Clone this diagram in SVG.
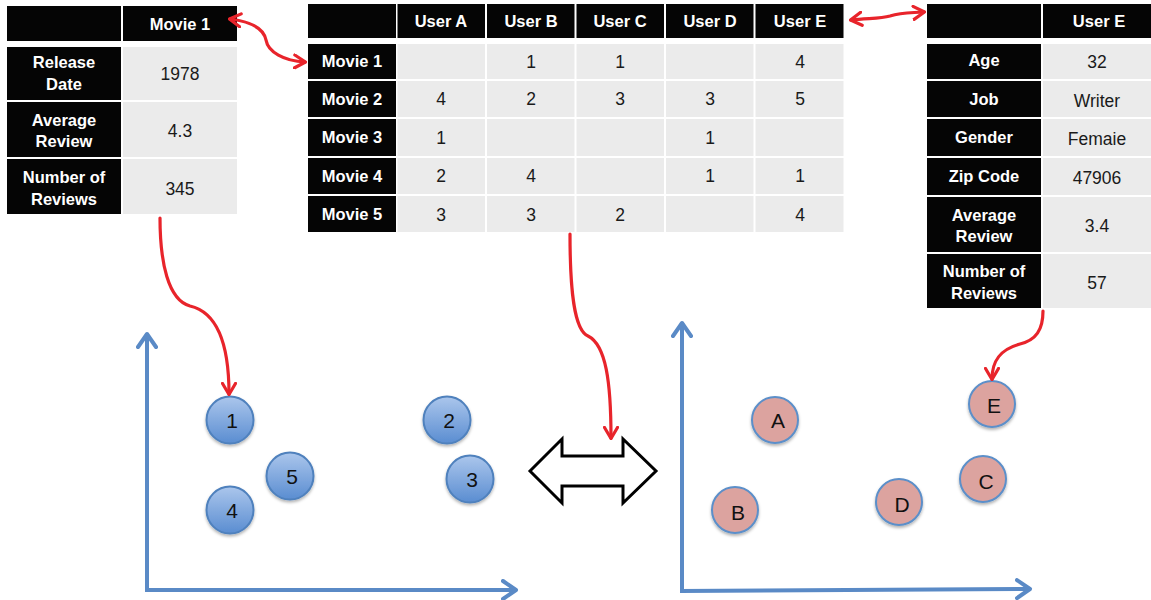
<svg xmlns="http://www.w3.org/2000/svg" width="1151" height="600" viewBox="0 0 1151 600">
<defs>
<style>
.k{fill:#050505}
.g{fill:#ebebeb}
.lb{font-family:"Liberation Sans",Arial,sans-serif;font-size:16.5px;font-weight:bold;fill:#ffffff;text-anchor:middle}
.v{font-family:"Liberation Sans",Arial,sans-serif;font-size:17.5px;fill:#1a1a1a;text-anchor:middle}
.ct{font-family:"Liberation Sans",Arial,sans-serif;font-size:21px;fill:#111111;text-anchor:middle}
.bc{fill:url(#bg);stroke:#4f81bd;stroke-width:2;filter:url(#sh)}
.pc{fill:#dca39f;stroke:#5b8fc9;stroke-width:2;filter:url(#sh)}
.ax{fill:none;stroke:#5a8ac6;stroke-width:4;marker-end:url(#ah)}
.rd{fill:none;stroke:#e8242b;stroke-width:3.2;stroke-linecap:round}
</style>
<linearGradient id="bg" x1="0" y1="0" x2="0" y2="1">
<stop offset="0" stop-color="#abc6ec"/>
<stop offset="1" stop-color="#5a8dd1"/>
</linearGradient>
<filter id="sh" x="-30%" y="-30%" width="160%" height="170%">
<feDropShadow dx="0" dy="2" stdDeviation="1.5" flood-color="#000" flood-opacity="0.3"/>
</filter>
<marker id="rh" viewBox="0 0 14 16" refX="12" refY="8" markerWidth="14" markerHeight="16" markerUnits="userSpaceOnUse" orient="auto-start-reverse">
<path d="M1.5,1.5 L12.5,8 L1.5,14.5" fill="none" stroke="#e8242b" stroke-width="3.2" stroke-linecap="round" stroke-linejoin="round"/>
</marker>
<marker id="ah" viewBox="0 0 18 22" refX="15" refY="11" markerWidth="18" markerHeight="22" markerUnits="userSpaceOnUse" orient="auto">
<path d="M2,2 L15,11 L2,20" fill="none" stroke="#5a8ac6" stroke-width="4" stroke-linecap="round" stroke-linejoin="round"/>
</marker>
</defs>
<rect width="1151" height="600" fill="#ffffff"/>

<g id="movie-table">
<rect class="k" x="7" y="6" width="114" height="35"/>
<rect class="k" x="123" y="6" width="114" height="35"/>
<text class="lb" x="180" y="29.5">Movie 1</text>
<rect class="k" x="7" y="47" width="114" height="53"/>
<rect class="g" x="123" y="47" width="114" height="53"/>
<text class="lb" x="64" y="68">Release</text>
<text class="lb" x="64" y="90">Date</text>
<text class="v" x="180" y="79.5">1978</text>
<rect class="k" x="7" y="102" width="114" height="55"/>
<rect class="g" x="123" y="102" width="114" height="55"/>
<text class="lb" x="64" y="126">Average</text>
<text class="lb" x="64" y="147">Review</text>
<text class="v" x="180" y="136.5">4.3</text>
<rect class="k" x="7" y="159" width="114" height="55"/>
<rect class="g" x="123" y="159" width="114" height="55"/>
<text class="lb" x="64" y="183">Number of</text>
<text class="lb" x="64" y="205">Reviews</text>
<text class="v" x="180" y="194.5">345</text>
</g>

<g id="ratings-table">
<rect class="k" x="308" y="4" width="88" height="34"/>
<rect class="k" x="397.5" y="4" width="87.5" height="34"/>
<rect class="k" x="487" y="4" width="87.5" height="34"/>
<rect class="k" x="576.5" y="4" width="87.5" height="34"/>
<rect class="k" x="666" y="4" width="87.5" height="34"/>
<rect class="k" x="755.5" y="4" width="88" height="34"/>
<text class="lb" x="441" y="27">User A</text>
<text class="lb" x="531" y="27">User B</text>
<text class="lb" x="620" y="27">User C</text>
<text class="lb" x="710" y="27">User D</text>
<text class="lb" x="800" y="27">User E</text>

<rect class="k" x="308" y="44" width="88" height="35"/>
<rect class="g" x="397.5" y="44" width="87.5" height="35"/>
<rect class="g" x="487" y="44" width="87.5" height="35"/>
<rect class="g" x="576.5" y="44" width="87.5" height="35"/>
<rect class="g" x="666" y="44" width="87.5" height="35"/>
<rect class="g" x="755.5" y="44" width="88" height="35"/>
<text class="lb" x="352" y="67">Movie 1</text>
<text class="v" x="531" y="67.5">1</text>
<text class="v" x="620" y="67.5">1</text>
<text class="v" x="800" y="67.5">4</text>

<rect class="k" x="308" y="81" width="88" height="36"/>
<rect class="g" x="397.5" y="81" width="87.5" height="36"/>
<rect class="g" x="487" y="81" width="87.5" height="36"/>
<rect class="g" x="576.5" y="81" width="87.5" height="36"/>
<rect class="g" x="666" y="81" width="87.5" height="36"/>
<rect class="g" x="755.5" y="81" width="88" height="36"/>
<text class="lb" x="352" y="104.5">Movie 2</text>
<text class="v" x="441" y="105">4</text>
<text class="v" x="531" y="105">2</text>
<text class="v" x="620" y="105">3</text>
<text class="v" x="710" y="105">3</text>
<text class="v" x="800" y="105">5</text>

<rect class="k" x="308" y="119" width="88" height="37"/>
<rect class="g" x="397.5" y="119" width="87.5" height="37"/>
<rect class="g" x="487" y="119" width="87.5" height="37"/>
<rect class="g" x="576.5" y="119" width="87.5" height="37"/>
<rect class="g" x="666" y="119" width="87.5" height="37"/>
<rect class="g" x="755.5" y="119" width="88" height="37"/>
<text class="lb" x="352" y="143">Movie 3</text>
<text class="v" x="441" y="143.5">1</text>
<text class="v" x="710" y="143.5">1</text>

<rect class="k" x="308" y="158" width="88" height="36"/>
<rect class="g" x="397.5" y="158" width="87.5" height="36"/>
<rect class="g" x="487" y="158" width="87.5" height="36"/>
<rect class="g" x="576.5" y="158" width="87.5" height="36"/>
<rect class="g" x="666" y="158" width="87.5" height="36"/>
<rect class="g" x="755.5" y="158" width="88" height="36"/>
<text class="lb" x="352" y="181.5">Movie 4</text>
<text class="v" x="441" y="182">2</text>
<text class="v" x="531" y="182">4</text>
<text class="v" x="710" y="182">1</text>
<text class="v" x="800" y="182">1</text>

<rect class="k" x="308" y="196" width="88" height="36"/>
<rect class="g" x="397.5" y="196" width="87.5" height="36"/>
<rect class="g" x="487" y="196" width="87.5" height="36"/>
<rect class="g" x="576.5" y="196" width="87.5" height="36"/>
<rect class="g" x="666" y="196" width="87.5" height="36"/>
<rect class="g" x="755.5" y="196" width="88" height="36"/>
<text class="lb" x="352" y="220">Movie 5</text>
<text class="v" x="441" y="220.5">3</text>
<text class="v" x="531" y="220.5">3</text>
<text class="v" x="620" y="220.5">2</text>
<text class="v" x="800" y="220.5">4</text>
</g>

<g id="user-table">
<rect class="k" x="927" y="4" width="114" height="34"/>
<rect class="k" x="1043" y="4" width="108" height="34"/>
<text class="lb" x="1099" y="27">User E</text>
<rect class="k" x="927" y="44" width="114" height="35"/>
<rect class="g" x="1043" y="44" width="108" height="35"/>
<text class="lb" x="984" y="66">Age</text>
<text class="v" x="1097" y="67.5">32</text>
<rect class="k" x="927" y="81" width="114" height="36"/>
<rect class="g" x="1043" y="81" width="108" height="36"/>
<text class="lb" x="984" y="105">Job</text>
<text class="v" x="1097" y="107">Writer</text>
<rect class="k" x="927" y="119" width="114" height="37"/>
<rect class="g" x="1043" y="119" width="108" height="37"/>
<text class="lb" x="984" y="143">Gender</text>
<text class="v" x="1097" y="145">Femaie</text>
<rect class="k" x="927" y="158" width="114" height="37"/>
<rect class="g" x="1043" y="158" width="108" height="37"/>
<text class="lb" x="984" y="182">Zip Code</text>
<text class="v" x="1097" y="184">47906</text>
<rect class="k" x="927" y="197" width="114" height="55"/>
<rect class="g" x="1043" y="197" width="108" height="55"/>
<text class="lb" x="984" y="221">Average</text>
<text class="lb" x="984" y="242">Review</text>
<text class="v" x="1097" y="232">3.4</text>
<rect class="k" x="927" y="254" width="114" height="54"/>
<rect class="g" x="1043" y="254" width="108" height="54"/>
<text class="lb" x="984" y="277">Number of</text>
<text class="lb" x="984" y="299">Reviews</text>
<text class="v" x="1097" y="289">57</text>
</g>

<g id="movie-axes">
<path class="ax" d="M147,590 L147,334"/>
<path class="ax" d="M145,590 L516,590"/>
</g>
<g id="user-axes">
<path class="ax" d="M682,592 L682,323"/>
<path class="ax" d="M680,591 L1030,589"/>
</g>

<g id="movie-1"><circle class="bc" cx="230" cy="420" r="23.5"/><text class="ct" x="232" y="428">1</text></g>
<g id="movie-2"><circle class="bc" cx="447" cy="420" r="23.5"/><text class="ct" x="449" y="428">2</text></g>
<g id="movie-3"><circle class="bc" cx="470" cy="479" r="23.5"/><text class="ct" x="472" y="487">3</text></g>
<g id="movie-4"><circle class="bc" cx="230" cy="510" r="23.5"/><text class="ct" x="232" y="518">4</text></g>
<g id="movie-5"><circle class="bc" cx="290" cy="476" r="23.5"/><text class="ct" x="292" y="484">5</text></g>

<g id="user-a"><circle class="pc" cx="775" cy="420" r="23"/><text class="ct" x="778" y="428">A</text></g>
<g id="user-b"><circle class="pc" cx="735" cy="510" r="23"/><text class="ct" x="738" y="520">B</text></g>
<g id="user-c"><circle class="pc" cx="983" cy="479" r="23"/><text class="ct" x="986" y="489">C</text></g>
<g id="user-d"><circle class="pc" cx="899" cy="502" r="23"/><text class="ct" x="902" y="512">D</text></g>
<g id="user-e"><circle class="pc" cx="992" cy="404" r="23"/><text class="ct" x="994" y="413">E</text></g>

<g id="double-arrow">
<polygon points="530,471 562,439 562,456 623,456 623,439 656,471 623,503 623,486 562,486 562,503" fill="#ffffff" stroke="#000000" stroke-width="3" stroke-linejoin="miter"/>
</g>

<g id="connectors">
<path class="rd" d="M230,19 C254,22 264,30 266,40 C268,52 284,61 305,62" marker-start="url(#rh)" marker-end="url(#rh)"/>
<path class="rd" d="M851,20 C868,18 880,19 890,16 C902,12 912,13 924,12" marker-start="url(#rh)" marker-end="url(#rh)"/>
<path class="rd" d="M160,218 C160,262 168,300 190,306 C220,313 229,350 229,394" marker-end="url(#rh)"/>
<path class="rd" d="M570,234 C570,290 574,330 588,336 C606,345 611,382 611,438" marker-end="url(#rh)"/>
<path class="rd" d="M1043,311 C1043,330 1036,340 1020,344 C1001,349 992,360 992,379" marker-end="url(#rh)"/>
</g>
</svg>
